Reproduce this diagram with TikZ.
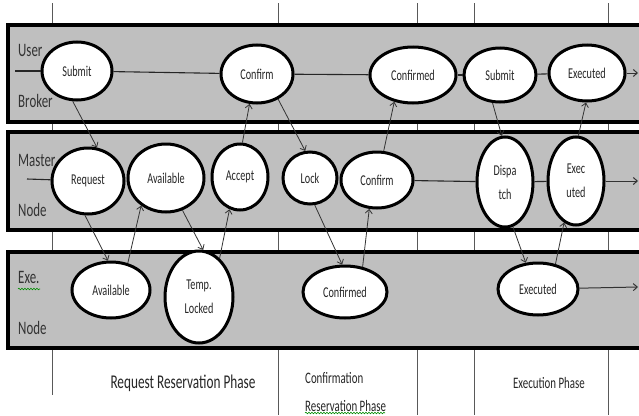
\documentclass[tikz,border=0pt]{standalone}
\usepackage{fontspec}
\setmainfont{Carlito}[FakeStretch=0.68]
\usetikzlibrary{arrows.meta,shapes.geometric,decorations.pathmorphing}
\begin{document}
\begin{tikzpicture}[x=1pt,y=-1pt,
  band/.style={fill=black!25,draw=black,line width=4pt},
  phaseline/.style={draw=black!65,line width=0.8pt},
  st/.style={ellipse,draw=black,fill=white,line width=3pt,inner sep=0pt,
    font=\fontsize{15}{24}\selectfont,align=center,text=black!85},
  flow/.style={draw=black!85,line width=1.1pt},
  arr/.style={draw=black!80,line width=0.8pt,-{Straight Barb[length=4pt,width=7pt]}},
  lane/.style={font=\fontsize{19}{20}\selectfont,text=black!80,anchor=west,inner sep=0pt},
  phasetext/.style={font=\fontsize{16}{28}\selectfont,text=black!85,inner sep=0pt},
  squig/.style={draw=green!55!black,line width=0.6pt,decorate,
    decoration={snake,amplitude=0.8pt,segment length=3pt}}
]
\clip (0,0) rectangle (639,415);
\fill[white] (0,0) rectangle (639,415);

% phase separator lines
\draw[phaseline] (52,3) -- (52,395);
\foreach \x in {278,417,474,608} \draw[phaseline] (\x,3) -- (\x,415);

% swim lanes
\draw[band] (8,25) rectangle (660,122);
\draw[band] (8,132) rectangle (660,230);
\draw[band] (8,252) rectangle (660,348);

% lane labels
\node[lane] (lu) at (18,50) {User};
\node[lane] (lb) at (18,101) {Broker};
\node[lane] (lm) at (18,160) {Master};
\node[lane] (ln) at (18,210) {Node};
\node[lane] (le) at (18,277) {Exe.};
\node[lane] (ln2) at (18,328) {Node};
\draw[squig] (18,289) -- (40,289);

% band 1 states
\node[st,minimum width=70pt,minimum height=58pt] (s1) at (77,71) {Submit};
\node[st,minimum width=72pt,minimum height=58pt] (c1) at (257,74) {Confirm};
\node[st,minimum width=86pt,minimum height=56pt] (cd1) at (413,75) {Confirmed};
\node[st,minimum width=72pt,minimum height=54pt] (s2) at (500,75) {Submit};
\node[st,minimum width=76pt,minimum height=56pt] (e1) at (587,73) {Executed};

% band 2 states
\node[st,minimum width=72pt,minimum height=66pt] (rq) at (88,181) {Request};
\node[st,minimum width=76pt,minimum height=68pt] (av2) at (166,178) {Available};
\node[st,minimum width=56pt,minimum height=66pt] (ac) at (240,177) {Accept};
\node[st,minimum width=54pt,minimum height=52pt] (lk) at (310,178) {Lock};
\node[st,minimum width=72pt,minimum height=56pt] (cf2) at (377,180) {Confirm};
\node[st,minimum width=56pt,minimum height=90pt] (dp) at (505,182) {Dispa\\tch};
\node[st,minimum width=56pt,minimum height=88pt] (ex2) at (576,181) {Exec\\uted};

% band 3 states
\node[st,minimum width=78pt,minimum height=56pt] (av3) at (111,290) {Available};
\node[st,minimum width=68pt,minimum height=92pt] (tl) at (199,297) {Temp.\\Locked};
\node[st,minimum width=84pt,minimum height=52pt] (cd3) at (345,292) {Confirmed};
\node[st,minimum width=80pt,minimum height=52pt] (ex3) at (538,289) {Executed};

% free ends
\coordinate (in1) at (15,71);
\coordinate (in2) at (27,179);
\coordinate (out1) at (638,73);
\coordinate (out2) at (638,181);
\coordinate (out3) at (638,287);

% horizontal flows
\draw[flow] (in1) -- (s1);
\draw[flow] (s1) -- (c1);
\draw[flow] (c1) -- (cd1);
\draw[flow] (cd1) -- (s2);
\draw[flow] (s2) -- (e1);
\draw[arr,line width=1pt] (e1) -- (out1);
\draw[flow] (in2) -- (rq);
\draw[flow] (cf2) -- (dp);
\draw[flow] (dp) -- (ex2);
\draw[arr,line width=1pt] (ex2) -- (out2);
\draw[arr,line width=1pt] (ex3) -- (out3);

% cross-lane arrows
\draw[arr] (s1.-98) -- (rq.75);
\draw[arr] (ac.86) -- (c1.-104);
\draw[arr] (c1.-50) -- (lk.100);
\draw[arr] (cf2.77) -- (cd1.-125);
\draw[arr] (s2.-105) -- (dp.94);
\draw[arr] (ex2.87) -- (e1.-92);
\draw[arr] (rq.-95) -- (av3.96);
\draw[arr] (av3.58) -- (av2.-132);
\draw[arr] (av2.-63) -- (tl.85);
\draw[arr] (tl.62) -- (ac.-108);
\draw[arr] (lk.-80) -- (cd3.96);
\draw[arr] (cd3.55) -- (cf2.-105);
\draw[arr] (dp.-80) -- (ex3.115);
\draw[arr] (ex3.55) -- (ex2.-106);

% phase captions
\node[phasetext,font=\fontsize{19.5}{20}\selectfont] (p1) at (183,383) {Request Reservation Phase};
\node[phasetext,align=left,anchor=north west] (p2) at (305,372) {Confirmation\\Reservation Phase};
\node[phasetext] (p3) at (549,383) {Execution Phase};
\draw[squig] (305,413) -- (385,413);
\end{tikzpicture}
\end{document}
